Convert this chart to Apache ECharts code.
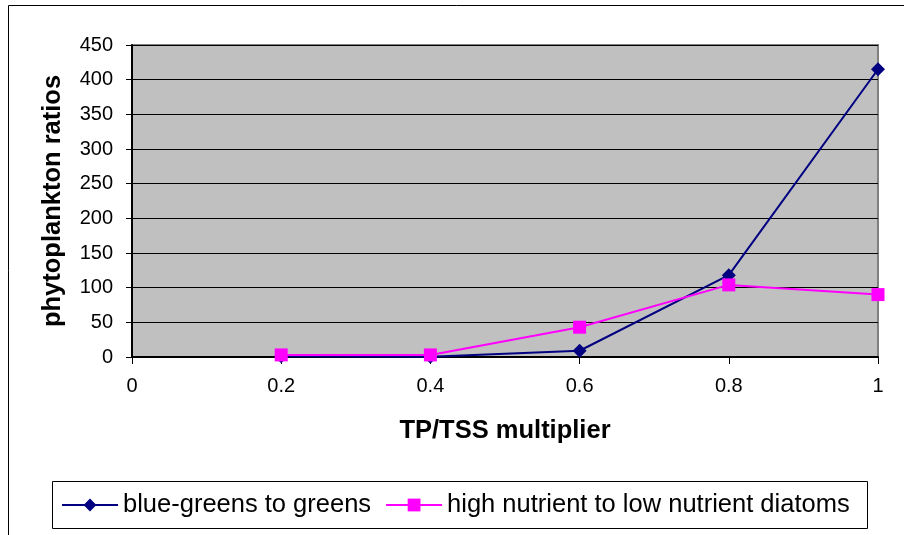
<!DOCTYPE html>
<html>
<head>
<meta charset="utf-8">
<script src="https://cdn.jsdelivr.net/npm/echarts@6/dist/echarts.min.js"></script>
<style>
html,body{margin:0;padding:0;background:#fff;}
#chart{width:904px;height:535px;}
</style>
</head>
<body>
<div id="chart"></div>
<script>
// Data
var multipliers = [0.2, 0.4, 0.6, 0.8, 1.0];
var blueGreensToGreens = [1, 0.5, 9, 118, 415];
var highToLowNutrientDiatoms = [3, 3, 43, 104, 90];
var seriesNames = ['blue-greens to greens', 'high nutrient to low nutrient diatoms'];
var xTitle = 'TP/TSS multiplier';
var yTitle = 'phytoplankton ratios';

function pairs(xs, ys) {
  return xs.map(function (x, i) { return [x, ys[i]]; });
}

var FONT = 'Liberation Sans, Arial, sans-serif';
var chart = echarts.init(document.getElementById('chart'), null, {renderer: 'canvas'});
chart.setOption({
  backgroundColor: '#ffffff',
  animation: false,
  textStyle: {fontFamily: FONT},
  grid: {
    left: 132, right: 26, top: 45, bottom: 178,
    show: true,
    backgroundColor: '#C0C0C0',
    borderColor: '#808080',
    borderWidth: 2
  },
  xAxis: {
    type: 'value',
    min: 0, max: 1, interval: 0.2,
    name: xTitle,
    nameLocation: 'middle',
    nameGap: 61,
    nameTextStyle: {fontSize: 25.5, fontWeight: 'bold', color: '#000', fontFamily: FONT},
    axisLine: {show: true, onZero: false, lineStyle: {color: '#000', width: 2}},
    axisTick: {show: true, length: 7, lineStyle: {color: '#000', width: 1}},
    axisLabel: {margin: 19, fontSize: 20, color: '#000', fontFamily: FONT},
    splitLine: {show: false}
  },
  yAxis: {
    type: 'value',
    min: 0, max: 450, interval: 50,
    name: yTitle,
    nameLocation: 'middle',
    nameGap: 66,
    nameRotate: 90,
    nameTextStyle: {fontSize: 25.5, fontWeight: 'bold', color: '#000', fontFamily: FONT},
    axisLine: {show: true, lineStyle: {color: '#000', width: 2}},
    axisTick: {show: true, length: 6, lineStyle: {color: '#000', width: 1}},
    axisLabel: {margin: 19, fontSize: 20, color: '#000', fontFamily: FONT},
    splitLine: {show: true, lineStyle: {color: '#000', width: 1}}
  },
  legend: {
    left: 61,
    top: 492,
    padding: 0,
    itemWidth: 56,
    itemHeight: 16,
    itemGap: 14,
    textStyle: {fontSize: 25.5, color: '#000', fontFamily: FONT},
    data: seriesNames
  },
  graphic: [
    {type: 'rect', shape: {x: 8.5, y: 5.5, width: 1000, height: 1000},
     style: {fill: 'none', stroke: '#000', lineWidth: 1}, silent: true},
    {type: 'rect', shape: {x: 52.5, y: 481.5, width: 815, height: 47},
     style: {fill: 'none', stroke: '#000', lineWidth: 1}, silent: true}
  ],
  series: [
    {
      name: seriesNames[0],
      type: 'line',
      data: pairs(multipliers, blueGreensToGreens),
      symbol: 'diamond',
      symbolSize: 14,
      showAllSymbol: true,
      lineStyle: {color: '#000080', width: 2},
      itemStyle: {color: '#000080'},
      z: 2
    },
    {
      name: seriesNames[1],
      type: 'line',
      data: pairs(multipliers, highToLowNutrientDiatoms),
      symbol: 'rect',
      symbolSize: 13,
      showAllSymbol: true,
      lineStyle: {color: '#FF00FF', width: 2},
      itemStyle: {color: '#FF00FF'},
      z: 3
    }
  ]
});
</script>
</body>
</html>
